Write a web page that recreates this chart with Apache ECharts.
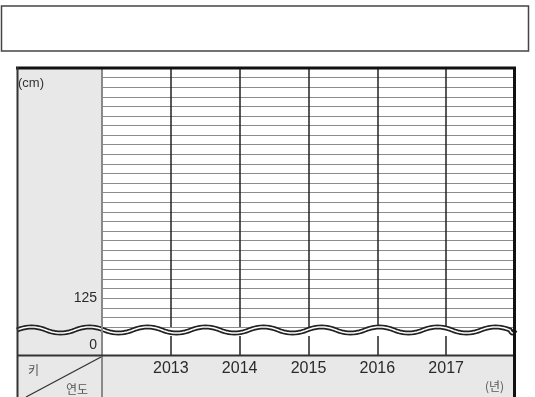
<!DOCTYPE html>
<html><head><meta charset="utf-8">
<script src="https://cdn.jsdelivr.net/npm/echarts@6/dist/echarts.min.js"></script>
<style>html,body{margin:0;padding:0;background:#fff}#c{width:535px;height:397px}</style>
</head><body><div id="c"></div>
<script>
// ---- data ----
const years = [2013, 2014, 2015, 2016, 2017];
const xRange = [2012, 2018];
const heightRange = [122, 149];
const heightTicks = [125];
const zeroRange = [-1, 1];
const zeroTicks = [0];
const unitY = '(cm)';
const unitX = '(년)';
const cornerTop = '키';
const cornerBottom = '연도';

const FONT = 'Liberation Sans, Arial, sans-serif';
const KFONT = 'Noto Sans CJK KR, sans-serif';

// wave decoration (break mark) as polyline points
function wavePoints(x0, x1, y, half, amp) {
  const pts = [];
  let sign = -1;
  for (let x = x0; x < x1; x += half) {
    const nx = Math.min(x + half, x1);
    const cx = (x + nx) / 2, cy = y + sign * amp * 2;
    for (let i = 0; i < 10; i++) {
      const t = i / 10;
      const px = (1 - t) * (1 - t) * x + 2 * (1 - t) * t * cx + t * t * nx;
      const py = (1 - t) * (1 - t) * y + 2 * (1 - t) * t * cy + t * t * y;
      pts.push([px, py]);
    }
    sign = -sign;
  }
  pts.push([x1, y]);
  return pts;
}
const wave = wavePoints(17, 515, 330, 29, 3);

const chart = echarts.init(document.getElementById('c'));
chart.setOption({
  animation: false,
  grid: [
    { left: 102, right: 20, top: 68, bottom: 70 },
    { left: 102, right: 20, top: 336, bottom: 42 }
  ],
  xAxis: [
    { type: 'value', gridIndex: 0, min: xRange[0], max: xRange[1], interval: 1,
      axisLine: { show: false }, axisTick: { show: false }, axisLabel: { show: false },
      splitLine: { show: true, lineStyle: { color: '#222', width: 1.5 } } },
    { type: 'value', gridIndex: 1, min: xRange[0], max: xRange[1], interval: 1,
      axisLine: { show: false }, axisTick: { show: false },
      axisLabel: { show: true, margin: 6, color: '#2a2a2a', fontSize: 16, fontFamily: FONT,
        formatter: v => years.includes(v) ? String(v) : '' },
      splitLine: { show: true, lineStyle: { color: '#222', width: 1.5 } } }
  ],
  yAxis: [
    { type: 'value', gridIndex: 0, min: heightRange[0], max: heightRange[1], interval: 1,
      axisLine: { show: false }, axisTick: { show: false },
      axisLabel: { show: true, margin: 5, color: '#2a2a2a', fontSize: 14, fontFamily: FONT,
        formatter: v => heightTicks.includes(v) ? String(v) : '' },
      splitLine: { show: true, lineStyle: { color: '#8c8c8c', width: 1 } } },
    { type: 'value', gridIndex: 1, min: zeroRange[0], max: zeroRange[1], interval: 1,
      axisLine: { show: false }, axisTick: { show: false },
      axisLabel: { show: true, margin: 5, color: '#2a2a2a', fontSize: 14, fontFamily: FONT,
        formatter: v => zeroTicks.includes(v) ? String(v) : '' },
      splitLine: { show: false } }
  ],
  series: [
    { type: 'line', xAxisIndex: 0, yAxisIndex: 0, data: [] },
    { type: 'line', xAxisIndex: 1, yAxisIndex: 1, data: [] }
  ],
  graphic: [
    // backgrounds
    { type: 'rect', z: -100, shape: { x: 1.5, y: 6, width: 527, height: 45 },
      style: { fill: '#fff', stroke: '#444', lineWidth: 1.5 } },
    { type: 'rect', z: -100, shape: { x: 17, y: 68, width: 85, height: 329 },
      style: { fill: '#e8e8e8' } },
    { type: 'rect', z: -100, shape: { x: 17, y: 355, width: 498, height: 42 },
      style: { fill: '#e8e8e8' } },
    // wave break
    { type: 'polyline', z: 100, shape: { points: wave },
      style: { fill: null, stroke: '#222', lineWidth: 5 } },
    { type: 'polyline', z: 101, shape: { points: wave },
      style: { fill: null, stroke: '#fff', lineWidth: 1.5 } },
    // separators & frame
    { type: 'line', z: 102, shape: { x1: 102, y1: 68, x2: 102, y2: 397 },
      style: { stroke: '#8a8a8a', lineWidth: 2 } },
    { type: 'line', z: 102, shape: { x1: 17, y1: 355.5, x2: 515, y2: 355.5 },
      style: { stroke: '#333', lineWidth: 2 } },
    { type: 'line', z: 103, shape: { x1: 16, y1: 68, x2: 516, y2: 68 },
      style: { stroke: '#111', lineWidth: 3 } },
    { type: 'line', z: 103, shape: { x1: 17.5, y1: 67, x2: 17.5, y2: 397 },
      style: { stroke: '#333', lineWidth: 2 } },
    { type: 'line', z: 103, shape: { x1: 514.5, y1: 67, x2: 514.5, y2: 397 },
      style: { stroke: '#111', lineWidth: 3 } },
    { type: 'line', z: 103, shape: { x1: 101, y1: 357, x2: 26, y2: 397 },
      style: { stroke: '#333', lineWidth: 1.2 } },
    // texts
    { type: 'text', z: 104, left: 18, top: 77,
      style: { text: unitY, fontSize: 13, fontFamily: FONT, fill: '#333' } },
    { type: 'text', z: 104, left: 28, top: 364,
      style: { text: cornerTop, fontSize: 12, fontFamily: KFONT, fill: '#555' } },
    { type: 'text', z: 104, left: 66, top: 383,
      style: { text: cornerBottom, fontSize: 12, fontFamily: KFONT, fill: '#555' } },
    { type: 'text', z: 104, left: 485, top: 380,
      style: { text: unitX, fontSize: 12, fontFamily: KFONT, fill: '#555' } }
  ]
});
</script></body></html>
